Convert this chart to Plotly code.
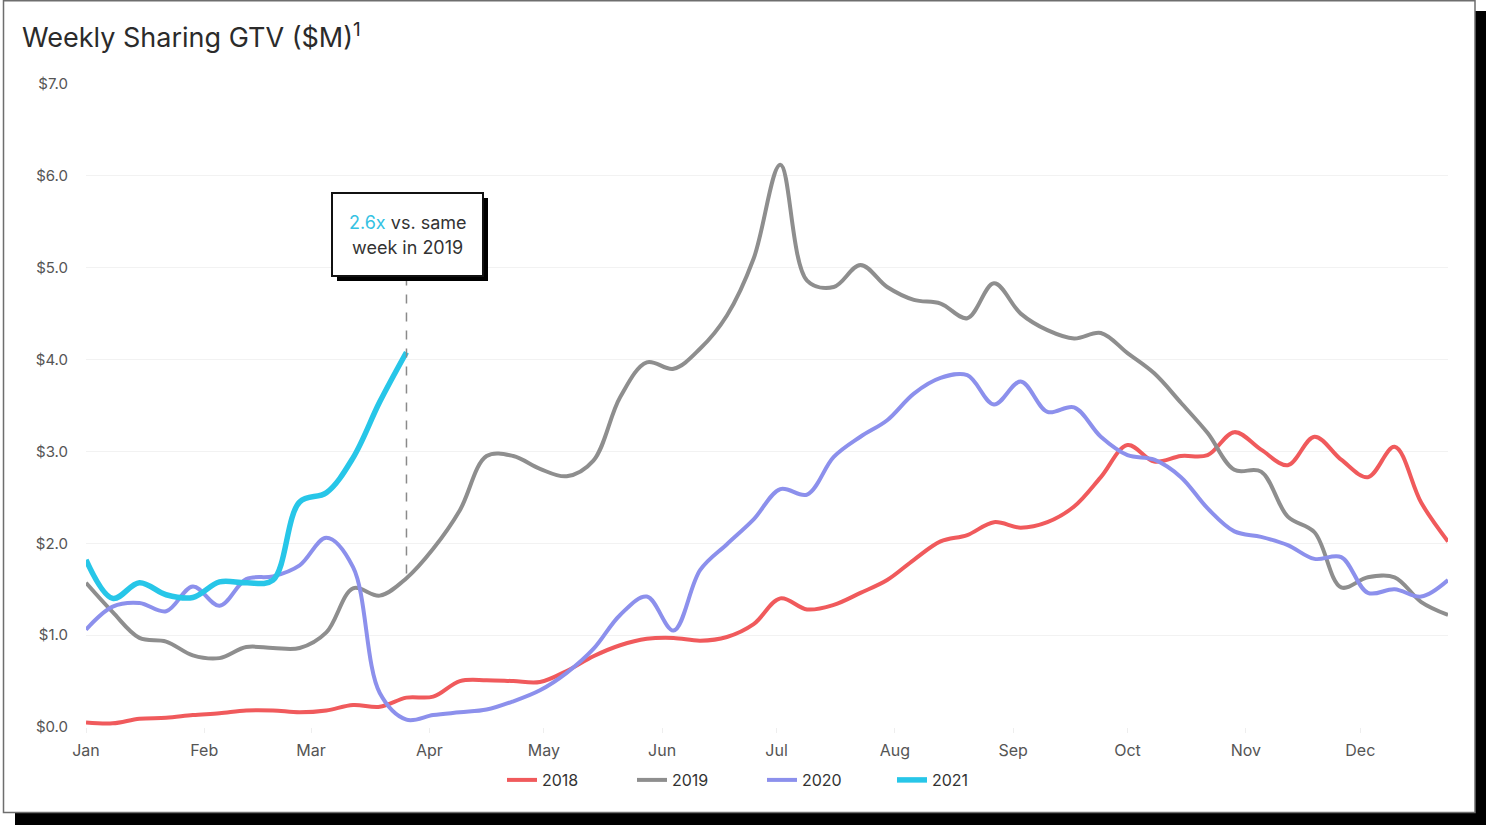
import pandas as pd
import plotly.graph_objects as go

# Weekly buckets on a common calendar axis (week 1 starts Jan 1)
weeks = pd.date_range("2019-01-01", periods=52, freq="7D")

gtv_2018 = [0.05, 0.04, 0.09, 0.10, 0.13, 0.15, 0.18, 0.18, 0.16, 0.18,
            0.24, 0.22, 0.32, 0.33, 0.50, 0.51, 0.50, 0.49, 0.61, 0.77,
            0.89, 0.96, 0.97, 0.94, 0.98, 1.12, 1.40, 1.28, 1.33, 1.46,
            1.60, 1.82, 2.02, 2.09, 2.23, 2.17, 2.23, 2.40, 2.72, 3.07,
            2.89, 2.95, 2.96, 3.21, 3.02, 2.85, 3.16, 2.91, 2.72, 3.05,
            2.44, 2.02]
gtv_2019 = [1.57, 1.25, 0.97, 0.93, 0.78, 0.75, 0.87, 0.86, 0.86, 1.03,
            1.51, 1.43, 1.62, 1.94, 2.36, 2.95, 2.95, 2.81, 2.73, 2.90,
            3.59, 3.97, 3.90, 4.12, 4.48, 5.10, 6.12, 4.86, 4.79, 5.03,
            4.79, 4.65, 4.61, 4.45, 4.83, 4.50, 4.32, 4.23, 4.29, 4.07,
            3.85, 3.53, 3.20, 2.80, 2.78, 2.29, 2.12, 1.52, 1.63, 1.63,
            1.36, 1.22]
gtv_2020 = [1.06, 1.31, 1.35, 1.26, 1.53, 1.32, 1.61, 1.64, 1.76, 2.06,
            1.74, 0.37, 0.08, 0.13, 0.16, 0.19, 0.28, 0.40, 0.59, 0.85,
            1.22, 1.42, 1.05, 1.71, 1.99, 2.26, 2.59, 2.53, 2.94, 3.16,
            3.34, 3.63, 3.80, 3.83, 3.51, 3.76, 3.43, 3.48, 3.16, 2.96,
            2.91, 2.72, 2.38, 2.13, 2.07, 1.98, 1.83, 1.85, 1.46, 1.50,
            1.42, 1.60]
gtv_2021 = [1.82, 1.40, 1.57, 1.44, 1.41, 1.58, 1.57, 1.60, 2.45, 2.55,
            2.93, 3.54, 4.08]

series = [
    ("2018", gtv_2018, "#F05A5C", 4),
    ("2019", gtv_2019, "#8E8E8E", 4),
    ("2020", gtv_2020, "#8C90EC", 4),
    ("2021", gtv_2021, "#27C6E8", 5.5),
]

y_ticks = [0, 1, 2, 3, 4, 5, 6, 7]
y_labels = [f"${v:.1f}" for v in y_ticks]

fig = go.Figure()
for name, vals, color, width in series:
    fig.add_trace(go.Scatter(
        x=weeks[:len(vals)], y=vals, name=name, mode="lines",
        line=dict(color=color, width=width, shape="spline", smoothing=1.0),
    ))

# plot area in pixels: left 86, right 1448, top 84, bottom 727
L, R, T, B = 86, 1448, 84, 727


def px(x):
    return (x - L) / (R - L)


def py(y):
    return (B - y) / (B - T)


shapes = [
    # drop shadow behind the card
    dict(type="rect", xref="paper", yref="paper", layer="below",
         x0=px(15), x1=px(1500), y0=py(11), y1=py(840),
         fillcolor="#000000", line=dict(width=0)),
    # white card with thin border
    dict(type="rect", xref="paper", yref="paper", layer="below",
         x0=px(3.5), x1=px(1475), y0=py(0.8), y1=py(812.5),
         fillcolor="#FFFFFF", line=dict(color="#6E6E6E", width=1.5)),
    # callout leader from 2019 value up to the box
    dict(type="line", xref="x", yref="y",
         x0=weeks[12], x1=weeks[12], y0=gtv_2019[12] + 0.05, y1=py(281) * 7,
         line=dict(color="#8A8A8A", width=1.5, dash="dash")),
    # callout box shadow
    dict(type="rect", xref="paper", yref="paper",
         x0=px(337), x1=px(488), y0=py(198), y1=py(281),
         fillcolor="#000000", line=dict(width=0)),
    # callout box
    dict(type="rect", xref="paper", yref="paper",
         x0=px(332), x1=px(483), y0=py(193), y1=py(276),
         fillcolor="#FFFFFF", line=dict(color="#111111", width=2)),
]

callout_font = dict(family="Inter, Lato, sans-serif", size=18, color="#333333")
annotations = [
    dict(xref="paper", yref="paper", x=px(407.5), y=py(222), showarrow=False,
         xanchor="center", yanchor="middle",
         text="<span style='color:#35C2E3'>2.6x</span> vs. same", font=callout_font),
    dict(xref="paper", yref="paper", x=px(407.5), y=py(248), showarrow=False,
         xanchor="center", yanchor="middle",
         text="week in 2019", font=callout_font),
]

fig.update_layout(
    width=1486, height=825, autosize=False,
    margin=dict(l=L, r=1486 - R, t=T, b=825 - B),
    paper_bgcolor="#FFFFFF", plot_bgcolor="rgba(0,0,0,0)",
    font=dict(family="Inter, Lato, sans-serif", color="#555555"),
    title=dict(text="Weekly Sharing GTV ($M)<sup>1</sup>", xref="container", yref="container",
               x=22 / 1486, y=1 - 38 / 825, xanchor="left", yanchor="middle",
               font=dict(size=27, color="#2B2B2B")),
    shapes=shapes,
    annotations=annotations,
    showlegend=True,
    legend=dict(orientation="h", xanchor="center", yanchor="middle",
                x=px(762), y=py(780), font=dict(size=16, color="#333333"),
                entrywidth=85, entrywidthmode="pixels", bgcolor="rgba(0,0,0,0)"),
)

fig.update_xaxes(
    type="date", range=[weeks[0], weeks[-1]], dtick="M1", tick0=weeks[0],
    tickformat="%b", showgrid=False, ticks="outside", ticklen=5,
    ticklabelstandoff=4,
    tickcolor="#EEEEEE", tickfont=dict(size=16, color="#555555"),
    showline=False, zeroline=False, fixedrange=True,
)
fig.update_yaxes(
    range=[0, 7], tickvals=y_ticks, ticktext=y_labels,
    showgrid=True, gridcolor="#F2F2F2", gridwidth=1, zeroline=False,
    ticks="outside", ticklen=14, tickcolor="rgba(0,0,0,0)",
    tickfont=dict(size=15, color="#555555"), showline=False, fixedrange=True,
)

fig.write_html("out.html")
